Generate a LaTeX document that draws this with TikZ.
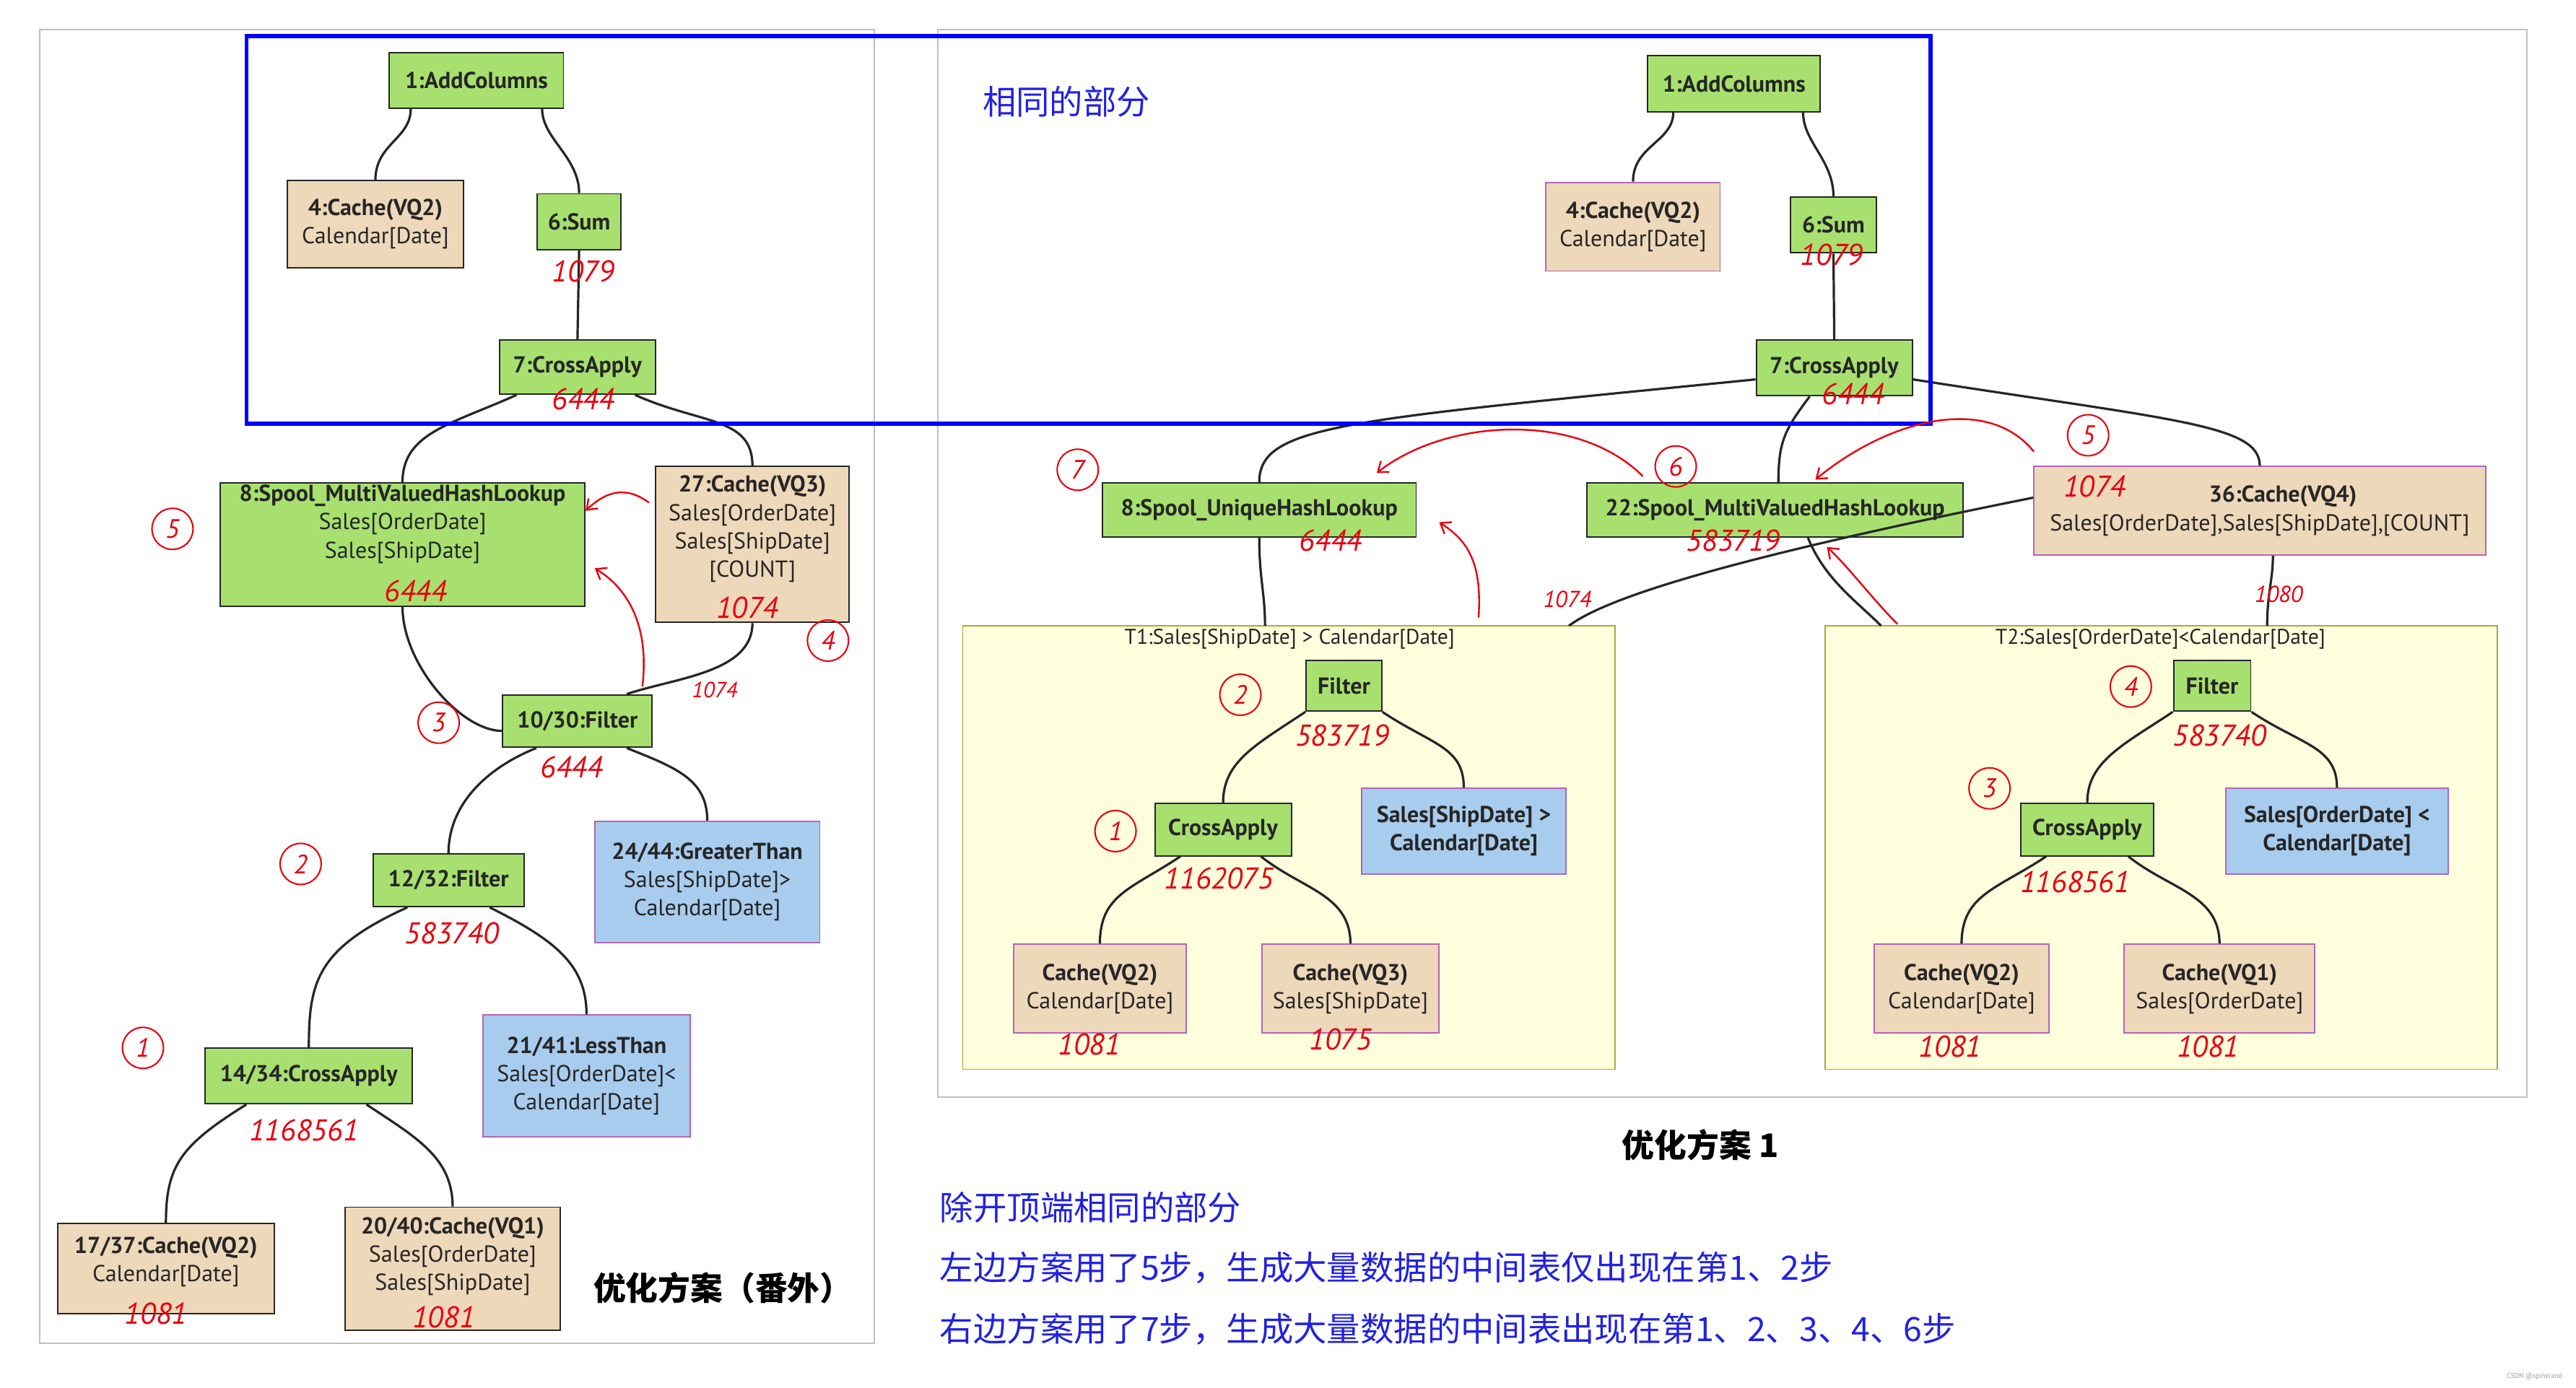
\documentclass[tikz,border=0pt]{standalone}
\usepackage{fontspec}
\setmainfont{PT Sans}
\newfontfamily\cjk{Noto Sans CJK SC}
\usetikzlibrary{arrows.meta}
\definecolor{gfill}{HTML}{A8E070}
\definecolor{tfill}{HTML}{EED8BA}
\definecolor{bfill}{HTML}{A8CCEE}
\definecolor{yfill}{HTML}{FFFFDE}
\definecolor{yline}{HTML}{AAAA33}
\definecolor{hred}{HTML}{E80010}
\definecolor{tblue}{HTML}{2222E0}
\def\u{0.05cm}
\tikzset{
 box/.style={draw=black!85,line width=1.2pt,inner sep=0pt,align=center,font=\fontsize{20}{24.5}\selectfont,text=black!85},
 g/.style={box,fill=gfill},
 t/.style={box,fill=tfill},
 tp/.style={box,fill=tfill,draw=violet!60},
 b/.style={box,fill=bfill,draw=violet!60},
 edge/.style={draw=black!85,line width=2pt},
 hn/.style={text=hred,font=\fontsize{26}{26}\selectfont\itshape,inner sep=0pt},
 cn/.style={circle,draw=hred,line width=1.3pt,text=hred,minimum size=25*\u,inner sep=0pt,font=\fontsize{23}{23}\selectfont\itshape},
 rarr/.style={draw=hred,line width=1.5pt,-{Straight Barb[length=8pt,width=12pt]}},
 cl/.style={draw=yline,fill=yfill,line width=1pt},
 bt/.style={text=tblue,font=\fontsize{29}{32}\selectfont\cjk,inner sep=0pt,anchor=west},
}
\begin{document}
\begin{tikzpicture}[x=0.05cm,y=-0.05cm]
\useasboundingbox[fill=white] (0,0) rectangle (1568,845);
% panels
\draw[black!25,line width=1.3pt] (24,18) rectangle (532,818);
\draw[black!25,line width=1.3pt] (571,18) rectangle (1538,668);
% clusters
\draw[cl] (586,381) rectangle (983,651);
\draw[cl] (1111,381) rectangle (1520,651);
\node[font=\fontsize{18.5}{20}\selectfont,text=black!85] (t1l) at (785,389) {T1:Sales[ShipDate] > Calendar[Date]};
\node[font=\fontsize{18.5}{20}\selectfont,text=black!85] (t2l) at (1315,389) {T2:Sales[OrderDate]<Calendar[Date]};
\coordinate (t1top) at (770,381);
\coordinate (t1tr) at (955,381);
\coordinate (t2top) at (1145,381);
\coordinate (t2tr) at (1380,381);

% ---------- left nodes ----------
\node[g,minimum width=106*\u,minimum height=34*\u] (la) at (290,49) {\textbf{1:AddColumns}};
\node[t,minimum width=107*\u,minimum height=53*\u] (lc4) at (228.5,136.5) {\textbf{4:Cache(VQ2)}\\Calendar[Date]};
\node[g,minimum width=51*\u,minimum height=34*\u] (ls) at (352.5,135) {\textbf{6:Sum}};
\node[g,minimum width=95*\u,minimum height=33*\u] (lx) at (351.5,223.5) {\textbf{7:CrossApply}};
\node[g,minimum width=222*\u,minimum height=75*\u,text depth=28*\u] (lsp) at (245,331.5) {\textbf{8:Spool\_MultiValuedHashLookup}\\Sales[OrderDate]\\Sales[ShipDate]};
\node[t,minimum width=118*\u,minimum height=95*\u,text depth=22*\u] (lc27) at (458,331.5) {\textbf{27:Cache(VQ3)}\\Sales[OrderDate]\\Sales[ShipDate]\\{}[COUNT]};
\node[g,minimum width=91*\u,minimum height=32*\u] (lf10) at (351.5,439) {\textbf{10/30:Filter}};
\node[b,minimum width=137*\u,minimum height=74*\u] (lgt) at (430.5,537) {\textbf{24/44:GreaterThan}\\Sales[ShipDate]>\\Calendar[Date]};
\node[g,minimum width=92*\u,minimum height=32*\u] (lf12) at (273,536) {\textbf{12/32:Filter}};
\node[b,minimum width=126*\u,minimum height=74*\u] (llt) at (357,655) {\textbf{21/41:LessThan}\\Sales[OrderDate]<\\Calendar[Date]};
\node[g,minimum width=126*\u,minimum height=34*\u] (lx14) at (188,655) {\textbf{14/34:CrossApply}};
\node[t,minimum width=132*\u,minimum height=55*\u,text depth=12*\u] (lc17) at (101,772.5) {\textbf{17/37:Cache(VQ2)}\\Calendar[Date]};
\node[t,minimum width=131*\u,minimum height=75*\u,text depth=18*\u] (lc20) at (275.5,772.5) {\textbf{20/40:Cache(VQ1)}\\Sales[OrderDate]\\Sales[ShipDate]};
\node[font=\fontsize{28}{30}\selectfont\cjk\bfseries,inner sep=0pt] (lt) at (440,784) {优化方案（番外）};

% left edges
\draw[edge] ([xshift=-40*\u]la.south) .. controls +(0,18) and +(0,-22) .. (lc4.north);
\draw[edge] ([xshift=40*\u]la.south) .. controls +(0,18) and +(0,-22) .. (ls.north);
\draw[edge] (ls.south) -- (lx.north);
\draw[edge] ([xshift=-37*\u]lx.south) .. controls +(-40,18) and +(0,-30) .. (lsp.north);
\draw[edge] ([xshift=35*\u]lx.south) .. controls +(40,18) and +(0,-30) .. (lc27.north);
\draw[edge] (lsp.south) .. controls +(0,35) and +(-25,0) .. ([yshift=-6*\u]lf10.west);
\draw[edge] (lc27.south) .. controls +(0,30) and +(30,-10) .. ([xshift=30*\u]lf10.north);
\draw[edge] ([xshift=-25*\u]lf10.south) .. controls +(-30,12) and +(0,-30) .. (lf12.north);
\draw[edge] ([xshift=30*\u]lf10.south) .. controls +(30,12) and +(0,-25) .. (lgt.north);
\draw[edge] ([xshift=-25*\u]lf12.south) .. controls +(-55,25) and +(0,-40) .. (lx14.north);
\draw[edge] ([xshift=25*\u]lf12.south) .. controls +(40,20) and +(0,-30) .. (llt.north);
\draw[edge] ([xshift=-38*\u]lx14.south) .. controls +(-40,25) and +(0,-35) .. (lc17.north);
\draw[edge] ([xshift=35*\u]lx14.south) .. controls +(30,20) and +(0,-30) .. (lc20.north);

% ---------- right nodes ----------
\node[g,minimum width=105*\u,minimum height=34*\u] (ra) at (1055.5,51) {\textbf{1:AddColumns}};
\node[tp,minimum width=106*\u,minimum height=54*\u] (rc4) at (994,138) {\textbf{4:Cache(VQ2)}\\Calendar[Date]};
\node[g,minimum width=52*\u,minimum height=34*\u] (rs) at (1116,137) {\textbf{6:Sum}};
\node[g,minimum width=95*\u,minimum height=34*\u] (rx) at (1116.5,224) {\textbf{7:CrossApply}};
\node[g,minimum width=191*\u,minimum height=33*\u] (rsp8) at (766.5,310.5) {\textbf{8:Spool\_UniqueHashLookup}};
\node[g,minimum width=229*\u,minimum height=33*\u] (rsp22) at (1080.5,310.5) {\textbf{22:Spool\_MultiValuedHashLookup}};
\node[tp,minimum width=275*\u,minimum height=54*\u] (rc36) at (1375.5,311) {\hspace*{40pt}\textbf{36:Cache(VQ4)}\\Sales[OrderDate],Sales[ShipDate],[COUNT]};
% T1
\node[g,minimum width=46*\u,minimum height=31*\u] (rf1) at (818,417.5) {\textbf{Filter}};
\node[b,minimum width=124*\u,minimum height=52*\u] (rb1) at (891,506) {\textbf{Sales[ShipDate] >}\\\textbf{Calendar[Date]}};
\node[g,minimum width=83*\u,minimum height=32*\u] (rx1) at (744.5,505) {\textbf{CrossApply}};
\node[tp,minimum width=105*\u,minimum height=54*\u] (rq1) at (669.5,602) {\textbf{Cache(VQ2)}\\Calendar[Date]};
\node[tp,minimum width=108*\u,minimum height=54*\u] (rq2) at (822,602) {\textbf{Cache(VQ3)}\\Sales[ShipDate]};
% T2
\node[g,minimum width=47*\u,minimum height=31*\u] (rf2) at (1346.5,417.5) {\textbf{Filter}};
\node[b,minimum width=135*\u,minimum height=52*\u] (rb2) at (1422.5,506) {\textbf{Sales[OrderDate] <}\\\textbf{Calendar[Date]}};
\node[g,minimum width=81*\u,minimum height=32*\u] (rx2) at (1270.5,505) {\textbf{CrossApply}};
\node[tp,minimum width=106*\u,minimum height=54*\u] (rq3) at (1194,602) {\textbf{Cache(VQ2)}\\Calendar[Date]};
\node[tp,minimum width=116*\u,minimum height=54*\u] (rq4) at (1351,602) {\textbf{Cache(VQ1)}\\Sales[OrderDate]};

% right edges
\draw[edge] ([xshift=-37*\u]ra.south) .. controls +(0,18) and +(0,-22) .. (rc4.north);
\draw[edge] ([xshift=42*\u]ra.south) .. controls +(0,18) and +(0,-22) .. (rs.north);
\draw[edge] (rs.south) -- (rx.north);
\draw[edge] ([yshift=-7*\u]rx.west) .. controls +(-250,25) and +(0,-35) .. (rsp8.north);
\draw[edge] ([xshift=-15*\u]rx.south) .. controls +(-15,20) and +(0,-25) .. ([xshift=2*\u]rsp22.north);
\draw[edge] ([yshift=-7*\u]rx.east) .. controls +(160,25) and +(0,-25) .. (rc36.north);
\draw[edge] (rsp8.south) .. controls +(0,25) and +(0,-20) .. (t1top);
\draw[edge] ([yshift=8*\u]rc36.west) .. controls +(-200,40) and +(20,-15) .. (t1tr);
\draw[edge] ([xshift=20*\u]rsp22.south) .. controls +(10,25) and +(-15,-15) .. (t2top);
\draw[edge] ([xshift=8*\u]rc36.south) .. controls +(0,15) and +(0,-20) .. (t2tr);
\draw[edge] (rf1.south west) .. controls +(-30,20) and +(0,-25) .. (rx1.north);
\draw[edge] (rf1.south east) .. controls +(30,20) and +(0,-25) .. (rb1.north);
\draw[edge] ([xshift=-26*\u]rx1.south) .. controls +(-30,20) and +(0,-30) .. (rq1.north);
\draw[edge] ([xshift=23*\u]rx1.south) .. controls +(25,20) and +(0,-30) .. (rq2.north);
\draw[edge] (rf2.south west) .. controls +(-30,20) and +(0,-25) .. (rx2.north);
\draw[edge] (rf2.south east) .. controls +(30,20) and +(0,-25) .. (rb2.north);
\draw[edge] ([xshift=-25*\u]rx2.south) .. controls +(-30,20) and +(0,-30) .. (rq3.north);
\draw[edge] ([xshift=25*\u]rx2.south) .. controls +(25,20) and +(0,-30) .. (rq4.north);

% blue frame
\draw[blue,line width=3.5pt] (150,22) rectangle (1175,258);

% ---------- red annotations left ----------
\node[hn] (h1) at (355,165) {1079};
\node[hn] (h2) at (355,243) {6444};
\node[hn] (h3) at (253,360) {6444};
\node[hn] (h4) at (455,370) {1074};
\node[hn,font=\fontsize{19}{19}\selectfont\itshape] (h5) at (435,420) {1074};
\node[hn] (h6) at (348,467) {6444};
\node[hn] (h7) at (275,568) {583740};
\node[hn] (h8) at (185,688) {1168561};
\node[hn] (h9) at (95,800) {1081};
\node[hn] (h10) at (270,802) {1081};
\node[cn] (c5) at (105,322) {5};
\node[cn] (c4) at (504,390) {4};
\node[cn] (c3) at (267,440) {3};
\node[cn] (c2) at (183,526) {2};
\node[cn] (c1) at (87,638) {1};
\coordinate (a1s) at (395,306);
\coordinate (a2s) at (391,418);
\draw[rarr] (a1s) .. controls (380,295) and (368,300) .. (lsp.east |- 0,311);
\draw[rarr] (a2s) .. controls (395,385) and (385,360) .. (362,346);

% ---------- red annotations right ----------
\node[hn] (r1) at (1115,155) {1079};
\node[hn] (r2) at (1128,240) {6444};
\node[hn] (r3) at (810,329) {6444};
\node[hn] (r4) at (1055,329) {583719};
\node[hn] (r5) at (1275,296) {1074};
\node[hn,font=\fontsize{20}{20}\selectfont\itshape] (r6) at (954,365) {1074};
\node[hn,font=\fontsize{20}{20}\selectfont\itshape] (r7) at (1387,362) {1080};
\node[hn] (r8) at (817,448) {583719};
\node[hn] (r9) at (742,535) {1162075};
\node[hn] (r10) at (663,636) {1081};
\node[hn] (r11) at (816,633) {1075};
\node[hn] (r12) at (1351,448) {583740};
\node[hn] (r13) at (1263,537) {1168561};
\node[hn] (r14) at (1187,637) {1081};
\node[hn] (r15) at (1344,637) {1081};
\node[cn] (rc7) at (656,286) {7};
\node[cn] (rc6) at (1020,284) {6};
\node[cn] (rc5) at (1271,265) {5};
\node[cn] (rc2) at (755,423) {2};
\node[cn] (rc1) at (679,506) {1};
\node[cn] (rc4n) at (1297,418) {4};
\node[cn] (rc3) at (1211,480) {3};
\coordinate (b1s) at (1000,290);
\coordinate (b2s) at (1238,275);
\coordinate (b3s) at (900,376);
\coordinate (b4s) at (1155,380);
\draw[rarr] (b1s) .. controls (960,250) and (880,255) .. (838,288);
\draw[rarr] (b2s) .. controls (1210,240) and (1150,255) .. (1105,292);
\draw[rarr] (b3s) .. controls (902,345) and (895,330) .. (876,318);
\draw[rarr] (b4s) .. controls (1140,365) and (1125,345) .. (1112,333);

% ---------- texts ----------
\node[bt] (s0) at (598,62) {相同的部分};
\node[font=\fontsize{28}{30}\selectfont\cjk\bfseries,inner sep=0pt] (s1) at (1035,697) {优化方案 1};
\node[bt] (s2) at (572,735) {除开顶端相同的部分};
\node[bt] (s3) at (572,772) {左边方案用了5步，生成大量数据的中间表仅出现在第1、2步};
\node[bt] (s4) at (572,809) {右边方案用了7步，生成大量数据的中间表出现在第1、2、3、4、6步};
\node[text=black!40,font=\fontsize{6}{7}\selectfont,anchor=east] (wm) at (1562,838) {CSDN @spinerand};
\end{tikzpicture}
\end{document}
